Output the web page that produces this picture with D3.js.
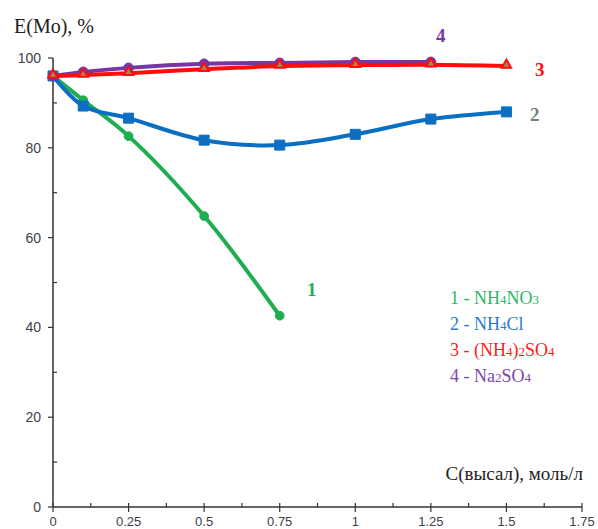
<!DOCTYPE html>
<html>
<head>
<meta charset="utf-8">
<script src="https://cdn.jsdelivr.net/npm/d3@7"></script>
<style>
  body { margin: 0; background: #fff; }
  svg { display: block; }
</style>
</head>
<body>
<div id="chart"></div>
<script>
const xTicks = [0, 0.25, 0.5, 0.75, 1, 1.25, 1.5, 1.75];
const yTicks = [0, 20, 40, 60, 80, 100];

const xNH4NO3 = [0, 0.1, 0.25, 0.5, 0.75];
const yNH4NO3 = [96, 90.6, 82.6, 64.8, 42.6];

const xNH4Cl = [0, 0.1, 0.25, 0.5, 0.75, 1, 1.25, 1.5];
const yNH4Cl = [96, 89.3, 86.6, 81.7, 80.6, 83.0, 86.4, 88.0];

const xNH42SO4 = [0, 0.1, 0.25, 0.5, 0.75, 1, 1.25, 1.5];
const yNH42SO4 = [96, 96.2, 96.6, 97.5, 98.2, 98.4, 98.5, 98.2];

const xNa2SO4 = [0, 0.1, 0.25, 0.5, 0.75, 1, 1.25];
const yNa2SO4 = [96, 96.9, 97.8, 98.7, 98.9, 99.1, 99.1];

const width = 598;
const height = 529;

let x = d3.scaleLinear().domain([0, 1.75]).range([53, 582]);
let y = d3.scaleLinear().domain([0, 100]).range([507, 58]);

let svg = d3
  .select("#chart")
  .append("svg")
  .attr("width", width)
  .attr("height", height);

const axisColor = "#333";
const tickText = "#404048";

// axes lines
svg.append("line")
  .attr("x1", x(0)).attr("x2", x(1.75))
  .attr("y1", y(0)).attr("y2", y(0))
  .attr("stroke", axisColor).attr("stroke-width", 1.5);
svg.append("line")
  .attr("x1", x(0)).attr("x2", x(0))
  .attr("y1", y(0)).attr("y2", y(100))
  .attr("stroke", axisColor).attr("stroke-width", 1.5);

// y ticks
svg.selectAll(".ymaj")
  .data(yTicks)
  .join("line")
  .attr("x1", x(0) - 5).attr("x2", x(0))
  .attr("y1", d => y(d)).attr("y2", d => y(d))
  .attr("stroke", axisColor).attr("stroke-width", 1.2);
svg.selectAll(".ymin")
  .data(d3.range(10, 100, 20))
  .join("line")
  .attr("x1", x(0)).attr("x2", x(0) + 4)
  .attr("y1", d => y(d)).attr("y2", d => y(d))
  .attr("stroke", axisColor).attr("stroke-width", 1.2);
svg.selectAll(".ylab")
  .data(yTicks)
  .join("text")
  .attr("x", x(0) - 12)
  .attr("y", d => y(d) + 5)
  .attr("text-anchor", "end")
  .attr("font-family", "Liberation Sans, Arial, sans-serif")
  .attr("font-size", 14)
  .attr("fill", tickText)
  .text(d => d);

// x ticks
svg.selectAll(".xmaj")
  .data(xTicks)
  .join("line")
  .attr("x1", d => x(d)).attr("x2", d => x(d))
  .attr("y1", y(0) - 4).attr("y2", y(0) + 5)
  .attr("stroke", axisColor).attr("stroke-width", 1.2);
svg.selectAll(".xmin")
  .data(d3.range(0.125, 1.75, 0.25))
  .join("line")
  .attr("x1", d => x(d)).attr("x2", d => x(d))
  .attr("y1", y(0) - 4).attr("y2", y(0))
  .attr("stroke", axisColor).attr("stroke-width", 1.2);
svg.selectAll(".xlab")
  .data(xTicks)
  .join("text")
  .attr("x", d => x(d))
  .attr("y", 526)
  .attr("text-anchor", "middle")
  .attr("font-family", "Liberation Sans, Arial, sans-serif")
  .attr("font-size", 13)
  .attr("fill", tickText)
  .text(d => d);

// axis titles
svg.append("text")
  .attr("x", 14).attr("y", 33)
  .attr("font-family", "Liberation Serif, Times New Roman, serif")
  .attr("font-size", 20)
  .attr("fill", "#222")
  .text("E(Mo), %");
svg.append("text")
  .attr("x", 583).attr("y", 480)
  .attr("text-anchor", "end")
  .attr("font-family", "Liberation Serif, Times New Roman, serif")
  .attr("font-size", 19)
  .attr("fill", "#222")
  .text("C(высал), моль/л");

const line = d3.line()
  .x(d => x(d[0]))
  .y(d => y(d[1]))
  .curve(d3.curveCatmullRom.alpha(0.5));

const series = [
  { xs: xNH4NO3, ys: yNH4NO3, color: "#1fae4f", marker: "diamond" },
  { xs: xNH4Cl, ys: yNH4Cl, color: "#0a6fc2", marker: "square" },
  { xs: xNa2SO4, ys: yNa2SO4, color: "#7a35a5", marker: "circle" },
  { xs: xNH42SO4, ys: yNH42SO4, color: "#ff0d0d", marker: "triangle" }
];

series.forEach(function (s) {
  const pts = s.xs.map((v, i) => [v, s.ys[i]]);
  svg.append("path")
    .attr("d", line(pts))
    .attr("fill", "none")
    .attr("stroke", s.color)
    .attr("stroke-width", 4)
    .attr("stroke-linejoin", "round");

  let sym, size, fill, stroke;
  if (s.marker === "diamond") { sym = d3.symbolCircle; size = 60; fill = s.color; stroke = s.color; }
  else if (s.marker === "square") { sym = d3.symbolSquare; size = 100; fill = s.color; stroke = s.color; }
  else if (s.marker === "circle") { sym = d3.symbolCircle; size = 75; fill = s.color; stroke = s.color; }
  else { sym = d3.symbolTriangle; size = 38; fill = "#a08a50"; stroke = s.color; }

  svg.append("g")
    .selectAll("path")
    .data(pts)
    .join("path")
    .attr("transform", d => `translate(${x(d[0])},${y(d[1]) - (s.marker === "triangle" ? 1 : 0)})`)
    .attr("d", d3.symbol().type(sym).size(size))
    .attr("fill", fill)
    .attr("stroke", stroke)
    .attr("stroke-width", s.marker === "triangle" ? 2 : 1);
});

// curve numbers
const numLabels = [
  { t: "1", x: 307, y: 296, c: "#1fae4f" },
  { t: "2", x: 530, y: 121, c: "#6f7f80" },
  { t: "3", x: 535, y: 76, c: "#ff0d0d" },
  { t: "4", x: 436, y: 42, c: "#7a35a5" }
];
svg.selectAll(".num")
  .data(numLabels)
  .join("text")
  .attr("x", d => d.x).attr("y", d => d.y)
  .attr("font-family", "Liberation Serif, Times New Roman, serif")
  .attr("font-size", 19)
  .attr("font-weight", "bold")
  .attr("fill", d => d.c)
  .text(d => d.t);

// legend
const legend = [
  { parts: [["1 - NH", 0], ["4", 1], ["NO", 0], ["3", 1]], c: "#2fb565" },
  { parts: [["2 - NH", 0], ["4", 1], ["Cl", 0]], c: "#2a7bc8" },
  { parts: [["3 - (NH", 0], ["4", 1], [")", 0], ["2", 1], ["SO", 0], ["4", 1]], c: "#ff1a1a" },
  { parts: [["4 - Na", 0], ["2", 1], ["SO", 0], ["4", 1]], c: "#7a45ad" }
];
legend.forEach(function (l, i) {
  const t = svg.append("text")
    .attr("x", 450)
    .attr("y", 304 + i * 26)
    .attr("font-family", "Liberation Serif, Times New Roman, serif")
    .attr("font-size", 18)
    .attr("fill", l.c);
  l.parts.forEach(function (p) {
    t.append("tspan")
      .attr("font-size", p[1] ? 13 : 18)
      .text(p[0]);
  });
});
</script>
</body>
</html>
